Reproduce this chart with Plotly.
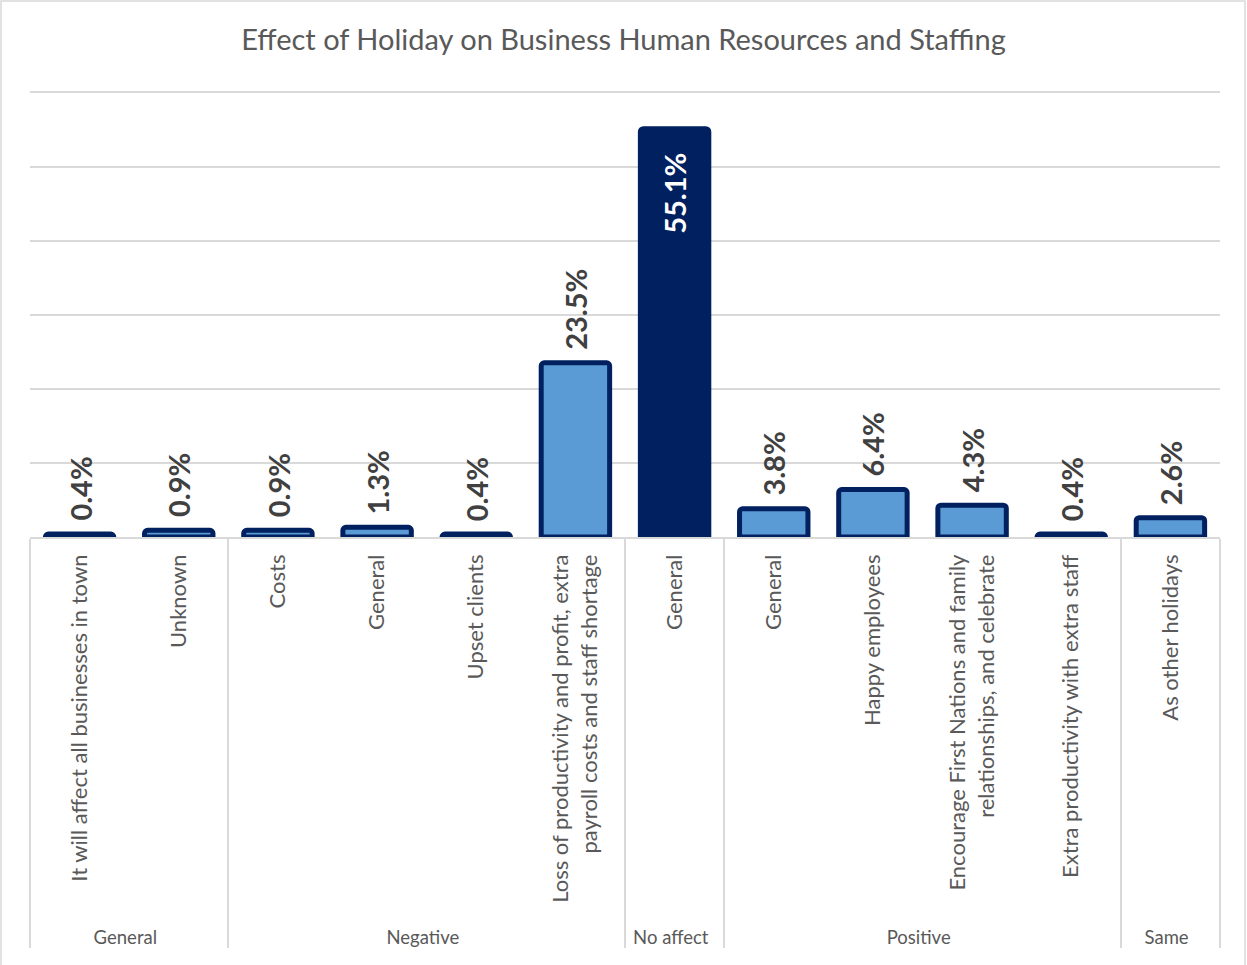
import plotly.graph_objects as go

groups = ["General", "General", "Negative", "Negative", "Negative", "Negative",
          "No affect", "Positive", "Positive", "Positive", "Positive", "Same"]
labels = [
    "It will affect all businesses in town",
    "Unknown",
    "Costs",
    "General",
    "Upset clients",
    "Loss of productivity and profit, extra<br>payroll costs and staff shortage",
    "General",
    "General",
    "Happy employees",
    "Encourage First Nations and family<br>relationships, and celebrate",
    "Extra productivity with extra staff",
    "As other holidays",
]
values = [0.4, 0.9, 0.9, 1.3, 0.4, 23.5, 55.1, 3.8, 6.4, 4.3, 0.4, 2.6]
title_text = "Effect of Holiday on Business Human Resources and Staffing"

NAVY = "#002060"
LIGHT = "#5B9BD5"
GRID = "#D9D9D9"
TXT = "#595959"
W, H = 1247, 965
ML, MR, MT, MB = 30, 27, 85, 428
FONT = "Lato"

fills = [NAVY if g == "No affect" else LIGHT for g in groups]
outer = [f"<span style='font-size:18.5px'>{g}</span>" for g in groups]
# invisible padding on the longest label so the group row sits a little lower
PAD = "\u00a0"
inner = [PAD + l.replace("<br>", "<br>" + PAD) if "Loss" in l else l for l in labels]

fig = go.Figure(go.Bar(
    x=[outer, inner],
    y=values,
    marker=dict(color=fills, line=dict(color=NAVY, width=5), cornerradius=3),
    cliponaxis=False,
    hoverinfo="skip",
))

for i, (g, v) in enumerate(zip(groups, values)):
    inside = g == "No affect"
    fig.add_annotation(
        x=i, y=v, xref="x", yref="y",
        text=f"<b>{v:.1f}%</b>", textangle=-90, showarrow=False,
        xanchor="center", yanchor="top" if inside else "bottom",
        yshift=-22 if inside else 11,
        font=dict(family=FONT, size=29, color="white" if inside else "#404040"),
    )

fig.update_layout(
    width=W, height=H,
    margin=dict(l=ML, r=MR, t=MT, b=MB),
    paper_bgcolor="white", plot_bgcolor="white",
    bargap=0.31,
    showlegend=False,
    title=dict(text=title_text, x=0.5, xanchor="center", y=1 - 40 / H, yanchor="middle",
               font=dict(family=FONT, size=29, color=TXT)),
    font=dict(family=FONT, color=TXT),
)
fig.update_yaxes(range=[0, 61], tickvals=[10, 20, 30, 40, 50, 60], showticklabels=False,
                 gridcolor=GRID, gridwidth=1.5, zeroline=False, showline=False, fixedrange=True)
fig.update_xaxes(type="multicategory", tickangle=-90,
                 tickfont=dict(family=FONT, size=22, color=TXT),
                 ticks="", ticklabelstandoff=7,
                 showline=True, linecolor=GRID, linewidth=1.5,
                 showdividers=True, dividercolor=GRID, dividerwidth=1.5,
                 automargin=False, fixedrange=True)

# outer chart border (bottom edge lies off-canvas, as in the reference)
pw, ph = W - ML - MR, H - MT - MB
fig.add_shape(type="rect", xref="paper", yref="paper",
              x0=(1 - ML) / pw, x1=(W - 2 - ML) / pw,
              y0=-(MB + 20) / ph, y1=1 + (MT - 1) / ph,
              line=dict(color=GRID, width=1.5), layer="below")

fig.write_html("out.html", config={"displayModeBar": False},
               post_script="document.body.style.margin='0';")
